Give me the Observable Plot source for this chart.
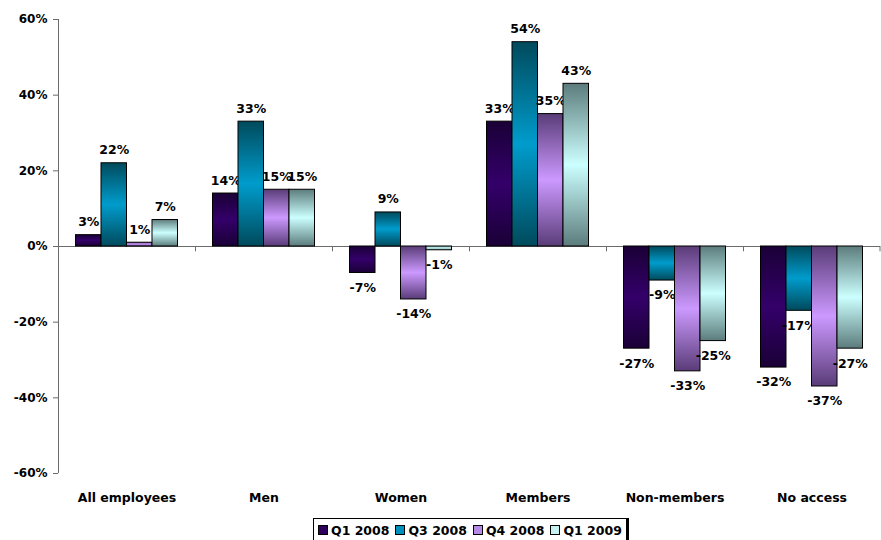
<!DOCTYPE html>
<html>
<head>
<meta charset="utf-8">
<script src="https://cdn.jsdelivr.net/npm/d3@7"></script>
<script src="https://cdn.jsdelivr.net/npm/@observablehq/plot@0.6"></script>
<style>
  body { margin: 0; background: #fff; font-family: "DejaVu Sans", Arial, sans-serif; }
  #chart { width: 881px; }
  #legend { position: absolute; left: 313px; top: 518px; height: 24px; border: 1px solid #000; border-right: 3px solid #000;
    display: flex; align-items: center; padding: 0 4px; font: bold 12.5px "DejaVu Sans", Arial, sans-serif; background: #fff; box-sizing: border-box; }
  .item { display: flex; align-items: center; margin-right: 6px; }
  .item:last-child { margin-right: 0; }
  .sw { width: 10px; height: 10px; border: 1px solid #000; margin-right: 3px; box-sizing: border-box; }
</style>
</head>
<body>
<div id="chart"></div>
<div id="legend"></div>
<script>
const categories = ["All employees", "Men", "Women", "Members", "Non-members", "No access"];
const series = ["Q1 2008", "Q3 2008", "Q4 2008", "Q1 2009"];
const q1_2008 = [3, 14, -7, 33, -27, -32];
const q3_2008 = [22, 33, 9, 54, -9, -17];
const q4_2008 = [1, 15, -14, 35, -33, -37];
const q1_2009 = [7, 15, -1, 43, -25, -27];
const yTicks = [-60, -40, -20, 0, 20, 40, 60];

const valuesBySeries = [q1_2008, q3_2008, q4_2008, q1_2009];
const gradients = [
  {edge: "#1a0036", mid: "#34006a", swatch: "#2e005c"},
  {edge: "#004a5c", mid: "#009ccc", swatch: "#0090bc"},
  {edge: "#5a3c78", mid: "#cc99ff", swatch: "#b48ae6"},
  {edge: "#5c7c7c", mid: "#ccffff", swatch: "#c6f2f2"}
];

const W = 881, H = 510;
const left = 58, right = 880;
const bw = (right - left) / categories.length;
const pad = 17.5, w = (bw - 2 * pad) / 4;
const font = "'DejaVu Sans', Arial, sans-serif";

const marks = [];
valuesBySeries.forEach((vals, i) => {
  const data = categories.map((c, j) => ({category: c, value: vals[j]}));
  marks.push(Plot.barY(data, {
    x: "category", y: "value",
    fill: `url(#grad${i})`, stroke: "#000", strokeWidth: 1,
    insetLeft: pad + i * w, insetRight: pad + (3 - i) * w
  }));
  const off = -bw / 2 + pad + (i + 0.5) * w;
  marks.push(Plot.text(data.filter(d => d.value >= 0), {
    x: "category", y: "value", text: d => d.value + "%",
    dx: off, dy: -9, lineAnchor: "bottom",
    fontWeight: "bold", fontSize: 12.5, fill: "#000"
  }));
  marks.push(Plot.text(data.filter(d => d.value < 0), {
    x: "category", y: "value", text: d => d.value + "%",
    dx: off, dy: 10, lineAnchor: "top",
    fontWeight: "bold", fontSize: 12.5, fill: "#000"
  }));
});

const chart = Plot.plot({
  width: W, height: H,
  marginLeft: left, marginRight: W - right, marginTop: 19, marginBottom: 37,
  style: {fontFamily: font, background: "#fff"},
  x: {domain: categories, padding: 0, label: null},
  y: {domain: [-60, 60], label: null},
  marks: [
    Plot.ruleY([0], {stroke: "#6b6b6b", strokeWidth: 1}),
    ...marks,
    Plot.ruleX([categories[0]], {x: d => d, y1: -60, y2: 60, dx: -bw / 2, stroke: "#6b6b6b"}),
    Plot.ruleX(categories.slice(1), {x: d => d, y1: 0, y2: -1.4, dx: -bw / 2, stroke: "#6b6b6b"}),
    Plot.ruleX([categories[categories.length - 1]], {x: d => d, y1: 0, y2: -1.4, dx: bw / 2 - 0.5, stroke: "#6b6b6b"}),
    Plot.axisY({ticks: yTicks, tickFormat: d => d + "%", tickSize: 5, tickPadding: 6,
      fontWeight: "bold", fontSize: 12, stroke: "#6b6b6b", fill: "#000"}),
    Plot.axisX({tickSize: 0, tickPadding: 20, fontWeight: "bold", fontSize: 12.5, fill: "#000"})
  ]
});

// gradient definitions
const ns = "http://www.w3.org/2000/svg";
const svg = chart.tagName.toLowerCase() === "svg" ? chart : chart.querySelector("svg");
const defs = document.createElementNS(ns, "defs");
gradients.forEach((g, i) => {
  const lg = document.createElementNS(ns, "linearGradient");
  lg.setAttribute("id", "grad" + i);
  lg.setAttribute("x1", "0"); lg.setAttribute("y1", "0");
  lg.setAttribute("x2", "0"); lg.setAttribute("y2", "1");
  [[0, g.edge], [0.5, g.mid], [1, g.edge]].forEach(([o, c]) => {
    const s = document.createElementNS(ns, "stop");
    s.setAttribute("offset", o);
    s.setAttribute("stop-color", c);
    lg.appendChild(s);
  });
  defs.appendChild(lg);
});
svg.insertBefore(defs, svg.firstChild);
document.getElementById("chart").appendChild(chart);

const legend = document.getElementById("legend");
series.forEach((s, i) => {
  const it = document.createElement("div");
  it.className = "item";
  const sw = document.createElement("div");
  sw.className = "sw";
  sw.style.background = gradients[i].swatch;
  it.appendChild(sw);
  it.appendChild(document.createTextNode(s));
  legend.appendChild(it);
});
</script>
</body>
</html>
